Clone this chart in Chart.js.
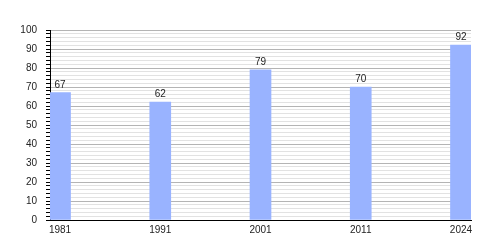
<!DOCTYPE html>
<html>
<head>
<meta charset="utf-8">
<script src="https://cdn.jsdelivr.net/npm/chart.js@4/dist/chart.umd.min.js"></script>
<style>
html,body{margin:0;padding:0;background:#fff}
#wrap{width:500px;height:250px}
</style>
</head>
<body>
<div id="wrap"><canvas id="chart" width="500" height="250"></canvas></div>
<script>
// data
const years=["1981","1991","2001","2011","2024"]
const values=[67,62,79,70,92]
const yTicks=[0,10,20,30,40,50,60,70,80,90,100]

// labels on top of the bars
const barLabels={
id:"barLabels",
afterDatasetsDraw(chart){
const ctx=chart.ctx
const meta=chart.getDatasetMeta(0)
ctx.save()
ctx.font="10px 'Liberation Sans', Arial, sans-serif"
ctx.fillStyle="#222"
ctx.textAlign="center"
ctx.textBaseline="alphabetic"
meta.data.forEach((bar,i)=>{
ctx.fillText(String(values[i]),bar.x,bar.y-5)
})
ctx.restore()
}
}

new Chart(document.getElementById("chart"),{
type:"bar",
data:{
datasets:[{
data:values.map((v,i)=>({x:i,y:v})),
backgroundColor:"#99b3ff",
borderWidth:0,
barThickness:21
}]
},
plugins:[barLabels],
options:{
responsive:false,
animation:false,
layout:{padding:{top:30,right:29,left:0,bottom:0}},
plugins:{legend:{display:false},tooltip:{enabled:false}},
scales:{
x:{
type:"linear",
offset:false,
min:-0.1,
max:4.1,
afterBuildTicks(scale){
scale.ticks=years.map((_,i)=>({value:i}))
},
afterFit(scale){scale.height=30},
grid:{display:true,color:"rgba(0,0,0,0)",drawTicks:false,offset:false},
border:{display:true,color:"#000",width:1},
ticks:{
autoSkip:false,
maxRotation:0,
padding:4,
color:"#222",
font:{family:"'Liberation Sans', Arial, sans-serif",size:10},
callback:v=>years[v]
}
},
y:{
min:0,
max:100,
afterBuildTicks(scale){
let t=[]
for(let v=0;v<=100;v+=2)t.push({value:v})
scale.ticks=t
},
afterFit(scale){scale.width=50},
grid:{
color:c=>yTicks.includes(c.tick.value)?"#b4b4b4":"#e2e2e2",
tickColor:"#000",
tickLength:4
},
border:{display:true,color:"#000",width:1},
ticks:{
autoSkip:false,
padding:9,
color:"#222",
font:{family:"'Liberation Sans', Arial, sans-serif",size:10},
callback:v=>yTicks.includes(v)?String(v):""
}
}
}
}
})
</script>
</body>
</html>
